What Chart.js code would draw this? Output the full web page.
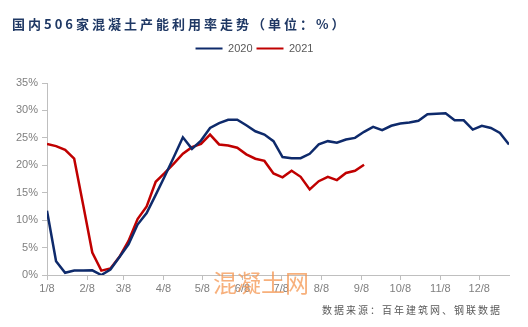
<!DOCTYPE html>
<html>
<head>
<meta charset="utf-8">
<script src="https://cdn.jsdelivr.net/npm/chart.js@4"></script>
<style>
  body { margin: 0; background: #fff; }
  #wrap { position: relative; width: 528px; height: 327px; }
  #title {
    position: absolute; left: 12px; top: 14px;
    font: bold 13px "Noto Sans CJK SC", sans-serif;
    letter-spacing: 3px; color: #1F3864; white-space: nowrap;
  }
  #source {
    position: absolute; right: 26px; top: 302px;
    font: 10px "Noto Sans CJK SC", sans-serif;
    letter-spacing: 2px; color: #595959; white-space: nowrap;
  }
  #mark {
    position: absolute; left: 213px; top: 264px;
    font: 24px "Noto Sans CJK SC", sans-serif;
    color: rgba(244, 150, 80, 0.75); white-space: nowrap;
  }
</style>
</head>
<body>
<div id="wrap">
  <canvas id="chart" width="528" height="327"></canvas>
  <div id="title">国内506家混凝土产能利用率走势（单位：%）</div>
  <div id="mark">混凝土网</div>
  <div id="source">数据来源：百年建筑网、钢联数据</div>
</div>
<script>
// weekly readings, first point on 1/8
const series2020 = [11.7, 2.5, 0.4, 0.8, 0.8, 0.85, 0.0, 1.0, 3.3, 5.6, 9.2, 11.3, 14.6, 18.0, 21.5, 25.1,
  23.0, 24.5, 26.8, 27.7, 28.3, 28.3, 27.3, 26.2, 25.6, 24.4, 21.5, 21.3, 21.3, 22.1, 23.8, 24.4,
  24.1, 24.7, 25.0, 26.1, 27.0, 26.4, 27.2, 27.6, 27.8, 28.1, 29.3, 29.4, 29.5, 28.2, 28.2, 26.5,
  27.2, 26.8, 25.9, 23.8];
const series2021 = [23.9, 23.5, 22.8, 21.2, 12.7, 4.1, 0.8, 1.2, 3.3, 6.2, 10.2, 12.5, 17.0, 18.6, 20.3, 22.1,
  23.3, 23.9, 25.6, 23.8, 23.6, 23.2, 22.0, 21.2, 20.8, 18.5, 17.8, 19.0, 17.9, 15.6, 17.1, 17.9,
  17.3, 18.6, 19.0, 20.1];

// x ticks: days counted from 1/8
const tickDays = [0, 31, 59, 90, 120, 151, 181, 212, 243, 273, 304, 334];
const tickLabels = ["1/8", "2/8", "3/8", "4/8", "5/8", "6/8", "7/8", "8/8", "9/8", "10/8", "11/8", "12/8"];

const toPoints = arr => arr.map((v, i) => ({ x: i * 7, y: v }));

const axisColor = "#BFBFBF";
const textColor = "#7F7F7F";
const font = { family: "'Liberation Sans', Arial, sans-serif", size: 11 };

// extra room under the legend
const legendGap = {
  id: "legendGap",
  beforeInit(chart) {
    const fit = chart.legend.fit;
    chart.legend.fit = function () {
      fit.bind(chart.legend)();
      this.height += 19;
    };
  }
};

new Chart(document.getElementById("chart"), {
  type: "line",
  data: {
    datasets: [
      { label: "2020", data: toPoints(series2020), borderColor: "#0E2A6B", backgroundColor: "#0E2A6B",
        borderWidth: 2.5, pointRadius: 0, tension: 0 },
      { label: "2021", data: toPoints(series2021), borderColor: "#C00000", backgroundColor: "#C00000",
        borderWidth: 2.5, pointRadius: 0, tension: 0 }
    ]
  },
  options: {
    responsive: false,
    animation: false,
    layout: { padding: { top: 39, left: 0, right: 19, bottom: 0 } },
    plugins: {
      tooltip: { enabled: false },
      legend: {
        position: "top",
        labels: {
          boxWidth: 27, boxHeight: 2, padding: 4, color: "#595959", font: font,
          generateLabels: chart => Chart.defaults.plugins.legend.labels.generateLabels(chart)
            .map(l => Object.assign(l, { lineWidth: 0 }))
        }
      }
    },
    scales: {
      x: {
        type: "linear", min: 0, max: 357,
        afterBuildTicks: scale => { scale.ticks = tickDays.map(v => ({ value: v })); },
        afterFit: scale => { scale.height = 52; },
        ticks: {
          color: textColor, font: font, padding: 2, maxRotation: 0, autoSkip: false,
          callback: v => tickLabels[tickDays.indexOf(v)]
        },
        grid: { drawOnChartArea: false, drawTicks: true, tickLength: 5, color: axisColor },
        border: { color: axisColor }
      },
      y: {
        min: 0, max: 35,
        afterFit: scale => { scale.width = 47; },
        ticks: { stepSize: 5, color: textColor, font: font, padding: 4, callback: v => v + "%" },
        grid: { drawOnChartArea: false, drawTicks: true, tickLength: 5, color: axisColor },
        border: { color: axisColor }
      }
    }
  },
  plugins: [legendGap]
});
</script>
</body>
</html>
